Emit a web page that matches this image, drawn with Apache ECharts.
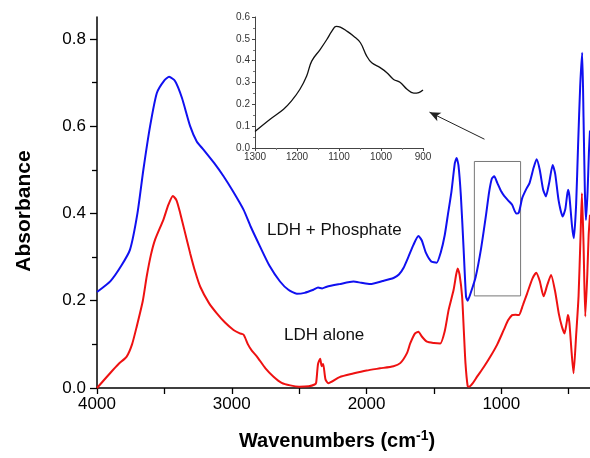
<!DOCTYPE html>
<html>
<head>
<meta charset="utf-8">
<script src="https://cdn.jsdelivr.net/npm/echarts@6/dist/echarts.min.js"></script>
<style>
  html, body { margin: 0; padding: 0; background: #fff; }
  #chart { width: 590px; height: 458px; }
</style>
</head>
<body>
<div id="chart"></div>
<script>
// FTIR spectra: LDH + phosphate (blue) and LDH alone (red)
const blueWavenumbers = [4000, 3900, 3820, 3755, 3700, 3656, 3606, 3556, 3500, 3465, 3420, 3370, 3309, 3260, 3210, 3130, 3061, 2990, 2912, 2860, 2790, 2720, 2642, 2580, 2517, 2460, 2394, 2360, 2330, 2295, 2200, 2097, 2040, 1973, 1880, 1800, 1760, 1726, 1690, 1652, 1615, 1590, 1560, 1520, 1480, 1450, 1420, 1395, 1370, 1345, 1332, 1318, 1300, 1280, 1262, 1250, 1225, 1190, 1150, 1115, 1090, 1070, 1053, 1030, 1000, 979, 950, 920, 890, 870, 845, 818, 790, 760, 738, 715, 690, 669, 645, 619, 600, 575, 545, 525, 505, 495, 475, 462, 445, 430, 415, 400, 390, 380, 372, 360, 350, 342];
const blueAbsorbance = [0.22, 0.245, 0.28, 0.317, 0.40, 0.50, 0.60, 0.676, 0.705, 0.713, 0.703, 0.665, 0.60, 0.565, 0.546, 0.515, 0.485, 0.45, 0.408, 0.37, 0.324, 0.28, 0.244, 0.225, 0.216, 0.218, 0.225, 0.23, 0.228, 0.232, 0.238, 0.244, 0.241, 0.238, 0.245, 0.252, 0.26, 0.275, 0.30, 0.328, 0.348, 0.338, 0.31, 0.29, 0.287, 0.31, 0.35, 0.40, 0.45, 0.515, 0.527, 0.51, 0.44, 0.32, 0.21, 0.20, 0.22, 0.255, 0.32, 0.393, 0.45, 0.48, 0.485, 0.47, 0.45, 0.44, 0.43, 0.42, 0.40, 0.402, 0.435, 0.454, 0.47, 0.505, 0.524, 0.50, 0.455, 0.439, 0.47, 0.511, 0.49, 0.43, 0.393, 0.41, 0.454, 0.44, 0.37, 0.343, 0.42, 0.56, 0.69, 0.768, 0.62, 0.45, 0.385, 0.45, 0.54, 0.59];

const redWavenumbers = [4000, 3900, 3840, 3780, 3740, 3706, 3660, 3631, 3600, 3569, 3507, 3470, 3437, 3410, 3383, 3350, 3309, 3270, 3234, 3170, 3111, 3050, 2987, 2940, 2912, 2880, 2850, 2813, 2750, 2690, 2630, 2566, 2500, 2430, 2385, 2374, 2360, 2344, 2333, 2322, 2305, 2285, 2200, 2100, 2000, 1900, 1800, 1750, 1700, 1676, 1640, 1615, 1590, 1552, 1500, 1453, 1420, 1391, 1354, 1335, 1324, 1310, 1291, 1278, 1266, 1250, 1240, 1210, 1180, 1130, 1081, 1030, 982, 950, 920, 895, 870, 840, 808, 770, 741, 715, 686, 660, 631, 600, 574, 550, 531, 515, 506, 495, 478, 464, 445, 427, 412, 402, 390, 377, 362, 352, 342];
const redAbsorbance = [0.0, 0.035, 0.055, 0.072, 0.10, 0.14, 0.20, 0.256, 0.305, 0.34, 0.386, 0.42, 0.44, 0.43, 0.401, 0.36, 0.309, 0.265, 0.232, 0.195, 0.171, 0.15, 0.133, 0.125, 0.122, 0.10, 0.085, 0.072, 0.045, 0.026, 0.012, 0.006, 0.003, 0.004, 0.008, 0.012, 0.055, 0.067, 0.05, 0.055, 0.02, 0.011, 0.025, 0.033, 0.04, 0.045, 0.05, 0.057, 0.08, 0.102, 0.125, 0.129, 0.118, 0.106, 0.103, 0.102, 0.13, 0.179, 0.225, 0.26, 0.274, 0.26, 0.21, 0.13, 0.057, 0.005, 0.003, 0.012, 0.026, 0.048, 0.072, 0.10, 0.133, 0.155, 0.167, 0.168, 0.167, 0.19, 0.217, 0.25, 0.264, 0.245, 0.21, 0.235, 0.259, 0.22, 0.171, 0.14, 0.125, 0.15, 0.167, 0.15, 0.08, 0.034, 0.12, 0.21, 0.35, 0.446, 0.33, 0.164, 0.26, 0.35, 0.397];

// Inset: phosphate band, 1300–900 cm-1
const insetWavenumbers = [1300, 1264, 1232, 1213, 1193, 1177, 1165, 1145, 1129, 1117, 1107, 1097, 1081, 1065, 1049, 1034, 1022, 1002, 986, 970, 954, 938, 922, 910, 900];
const insetAbsorbance = [0.076, 0.132, 0.178, 0.216, 0.269, 0.33, 0.398, 0.451, 0.497, 0.535, 0.557, 0.554, 0.535, 0.512, 0.482, 0.421, 0.39, 0.368, 0.345, 0.314, 0.3, 0.269, 0.251, 0.254, 0.266];

const mainXTicks = [4000, 3500, 3000, 2500, 2000, 1500, 1000, 500];
const mainXLabels = [4000, 3000, 2000, 1000];
const mainYLabels = [0, 0.2, 0.4, 0.6, 0.8];
const mainYMinor = [0.1, 0.3, 0.5, 0.7];

// Zoomed region box and arrow pointing to the inset
const boxRange = { from: [1200, 0.519], to: [857, 0.211] };
const arrowPath = { tail: [1125, 0.570], head: [1533, 0.632] };

const seriesLabels = ['LDH + Phosphate', 'LDH alone'];

const zip = (xs, ys) => xs.map((x, i) => [x, ys[i]]);
const FONT = '"Liberation Sans", Arial, sans-serif';

const chart = echarts.init(document.getElementById('chart'), null, { renderer: 'canvas' });

const option = {
  animation: false,
  backgroundColor: '#ffffff',
  grid: [
    { left: 97, right: 0, top: 17, bottom: 70, containLabel: false },
    { left: 255, top: 17, width: 168, height: 131, containLabel: false }
  ],
  xAxis: [
    {
      type: 'value', gridIndex: 0, min: 342, max: 4000, inverse: true,
      axisLine: { show: true, lineStyle: { color: '#000', width: 1.5 } },
      axisTick: { show: true, length: 6, lineStyle: { color: '#000', width: 1.3 }, customValues: mainXTicks },
      axisLabel: { show: true, margin: 8, fontSize: 17, color: '#000', fontFamily: FONT,
        customValues: mainXLabels, formatter: v => String(v) },
      splitLine: { show: false }
    },
    {
      type: 'value', gridIndex: 1, min: 900, max: 1300, interval: 100, inverse: true,
      axisLine: { show: true, onZero: false, lineStyle: { color: '#444', width: 1 } },
      axisTick: { show: true, length: 3, lineStyle: { color: '#444' } },
      minorTick: { show: true, splitNumber: 2, length: 2, lineStyle: { color: '#777' } },
      axisLabel: { fontSize: 10, color: '#333', margin: 4, fontFamily: FONT, formatter: v => String(v) },
      splitLine: { show: false }
    }
  ],
  yAxis: [
    {
      type: 'value', gridIndex: 0, min: 0, max: 0.85,
      axisLine: { show: true, lineStyle: { color: '#000', width: 1.5 } },
      axisTick: { show: true, length: 7, lineStyle: { color: '#000', width: 1.3 }, customValues: mainYLabels },
      axisLabel: { show: true, margin: 11, fontSize: 17, color: '#000', fontFamily: FONT,
        customValues: mainYLabels, formatter: v => v.toFixed(1) },
      splitLine: { show: false }
    },
    {
      // minor ticks between the labelled values
      type: 'value', gridIndex: 0, min: 0, max: 0.85, position: 'left',
      axisLine: { show: false },
      axisTick: { show: true, length: 5, lineStyle: { color: '#000', width: 1.3 }, customValues: mainYMinor },
      axisLabel: { show: false },
      splitLine: { show: false }
    },
    {
      type: 'value', gridIndex: 1, min: 0, max: 0.6, interval: 0.1,
      axisLine: { show: true, lineStyle: { color: '#444', width: 1 } },
      axisTick: { show: true, length: 3, lineStyle: { color: '#444' } },
      minorTick: { show: true, splitNumber: 2, length: 2, lineStyle: { color: '#777' } },
      axisLabel: { fontSize: 10, color: '#333', margin: 5, fontFamily: FONT, formatter: v => v.toFixed(1) },
      splitLine: { show: false }
    }
  ],
  series: [
    {
      name: seriesLabels[0], type: 'line', xAxisIndex: 0, yAxisIndex: 0,
      data: zip(blueWavenumbers, blueAbsorbance),
      showSymbol: false, smooth: 0.2,
      lineStyle: { color: '#1010f0', width: 2 },
      markArea: {
        silent: true,
        itemStyle: { color: 'rgba(0,0,0,0)', borderColor: '#777', borderWidth: 1 },
        label: { show: false },
        data: [[{ coord: boxRange.from }, { coord: boxRange.to }]]
      },
      z: 3
    },
    {
      name: seriesLabels[1], type: 'line', xAxisIndex: 0, yAxisIndex: 0,
      data: zip(redWavenumbers, redAbsorbance),
      showSymbol: false, smooth: 0.2,
      lineStyle: { color: '#ee1111', width: 2 },
      markLine: {
        silent: true, animation: false,
        symbol: ['none', 'arrow'], symbolSize: [7, 11],
        lineStyle: { color: '#222', width: 1, type: 'solid' },
        label: { show: false },
        data: [[{ coord: arrowPath.tail }, { coord: arrowPath.head }]]
      },
      z: 2
    },
    {
      type: 'line', xAxisIndex: 1, yAxisIndex: 2,
      data: zip(insetWavenumbers, insetAbsorbance),
      showSymbol: false, smooth: 0.4,
      lineStyle: { color: '#111', width: 1.3 }
    }
  ],
  graphic: [
    { type: 'text', left: 267, top: 222,
      style: { text: seriesLabels[0], fontSize: 17, fill: '#111', fontFamily: FONT } },
    { type: 'text', left: 284, top: 327,
      style: { text: seriesLabels[1], fontSize: 17, fill: '#111', fontFamily: FONT } },
    { type: 'text', x: 24, y: 211, rotation: Math.PI / 2,
      style: { text: 'Absorbance', fontSize: 21, fontWeight: 'bold', fill: '#000', fontFamily: FONT,
        align: 'center', verticalAlign: 'middle' } },
    { type: 'text', x: 337, y: 441,
      style: {
        text: '{a|Wavenumbers (cm}{s|-1}{a|)}',
        align: 'center', verticalAlign: 'middle', fontFamily: FONT,
        rich: {
          a: { fontSize: 20, fontWeight: 'bold', fill: '#000', fontFamily: FONT, lineHeight: 24 },
          s: { fontSize: 14, fontWeight: 'bold', fill: '#000', fontFamily: FONT, verticalAlign: 'top', lineHeight: 14, padding: [0, 0, 10, 0] }
        }
      } }
  ]
};

chart.setOption(option);
</script>
</body>
</html>
